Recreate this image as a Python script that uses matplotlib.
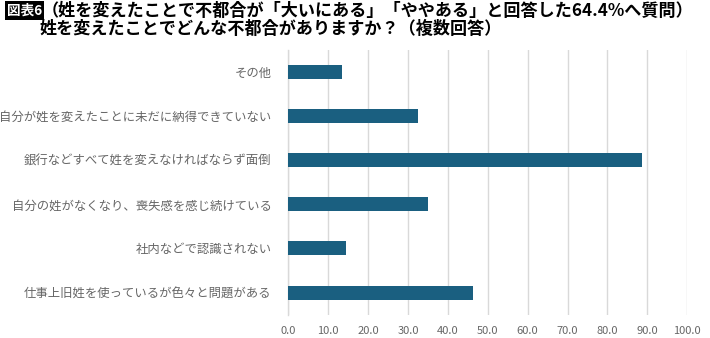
import matplotlib
matplotlib.use('Agg')
import matplotlib.pyplot as plt

plt.rcParams['font.family'] = ['Noto Sans CJK JP', 'DejaVu Sans']

# reasons, listed top to bottom
reasons = [
    "その他",
    "自分が姓を変えたことに未だに納得できていない",
    "銀行などすべて姓を変えなければならず面倒",
    "自分の姓がなくなり、喪失感を感じ続けている",
    "社内などで認識されない",
    "仕事上旧姓を使っているが色々と問題がある",
]
shares = [13.5, 32.4, 88.7, 35.0, 14.5, 46.2]
xticks = [0, 10, 20, 30, 40, 50, 60, 70, 80, 90, 100]

bar_color = '#1a5f80'
grid_color = '#d9d9d9'
label_color = '#666666'

fig = plt.figure(figsize=(7.1, 3.38), dpi=100)
ax = fig.add_axes([0.406, 0.069, 0.562, 0.784])

ax.barh(range(len(reasons)), shares, height=0.32, color=bar_color, zorder=3)
ax.set_ylim(len(reasons) - 0.5, -0.5)
ax.set_xlim(0, 100)

ax.set_yticks(range(len(reasons)))
ax.set_yticklabels(reasons, fontsize=8.9, color=label_color)
ax.set_xticks(xticks)
ax.set_xticklabels([f"{t:.1f}" for t in xticks], fontsize=8, color=label_color)
ax.tick_params(axis='y', length=0, pad=12)
ax.tick_params(axis='x', length=0, pad=8)

ax.grid(axis='x', color=grid_color, linewidth=1, zorder=0)
for side in ['top', 'right', 'bottom']:
    ax.spines[side].set_visible(False)
ax.spines['left'].set_color(grid_color)
ax.spines['left'].set_linewidth(1)

# header: black tag plus two-line title
fig.text(0.010, 0.969, "図表6", fontsize=9.8, fontweight='bold', color='white',
         va='center', ha='left',
         bbox=dict(boxstyle='square,pad=0.15', facecolor='black', edgecolor='none'))
fig.text(0.058, 0.969, "（姓を変えたことで不都合が「大いにある」「ややある」と回答した64.4%へ質問）",
         fontsize=12.3, fontweight='bold', color='black', va='center', ha='left')
fig.text(0.056, 0.913, "姓を変えたことでどんな不都合がありますか？（複数回答）",
         fontsize=12.3, fontweight='bold', color='black', va='center', ha='left')

fig.savefig("out.png", dpi=100)
